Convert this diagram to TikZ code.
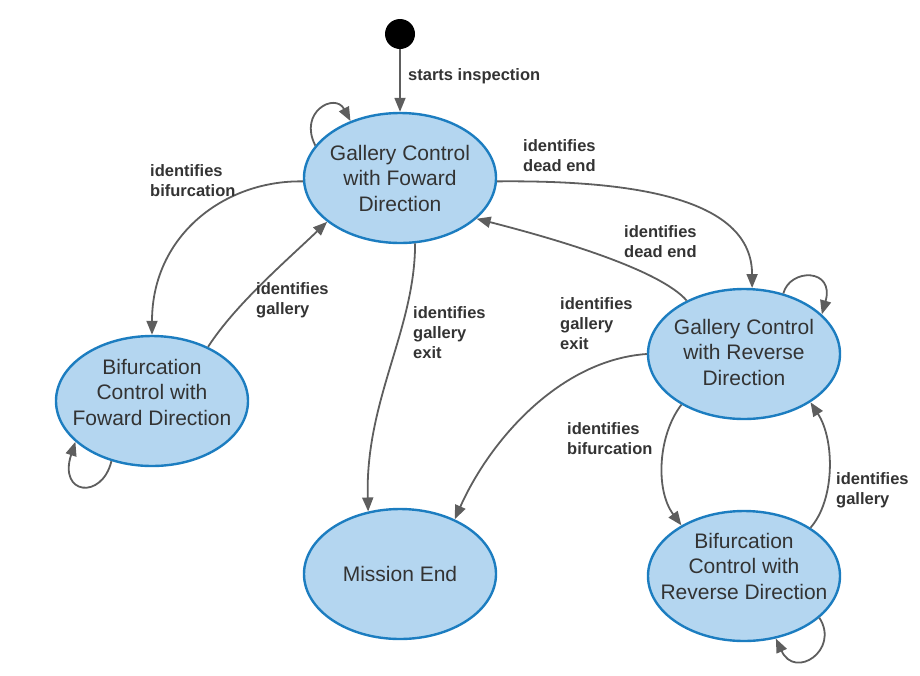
\documentclass[tikz,border=0pt]{standalone}
\usepackage{fontspec}
\setmainfont{Liberation Sans}
\usetikzlibrary{arrows.meta,shapes.geometric}
\definecolor{edgegray}{HTML}{5E5E5E}
\definecolor{stfill}{HTML}{B4D6F0}
\definecolor{stborder}{HTML}{1C7DC0}
\definecolor{txtgray}{HTML}{333333}
\tikzset{
  statebox/.style={ellipse, draw=stborder, line width=2.4pt, fill=stfill,
    minimum width=192pt, minimum height=130pt, inner sep=0pt},
  stxt/.style={align=center, text=txtgray, inner sep=0pt,
    font=\fontsize{21}{25.5}\selectfont},
  lbl/.style={align=left, text=txtgray, inner sep=0pt, anchor=north west,
    font=\fontsize{16.5}{20}\selectfont\bfseries},
  edge/.style={draw=edgegray, line width=1.8pt,
    -{Triangle[length=14pt,width=11pt]}},
}
\begin{document}
\begin{tikzpicture}[x=1pt,y=1pt]
\useasboundingbox (0,0) rectangle (920,-675);
% states
\node[circle, fill=black, minimum size=30pt, inner sep=0pt] (start) at (400,-34) {};
\node[statebox] (gcf) at (400,-178) {};
\node[stxt] (gcft) at (gcf) {Gallery Control\\with Foward\\Direction};
\node[statebox] (bcf) at (152,-401) {};
\node[stxt] (bcft) at ([yshift=9pt]bcf.center) {Bifurcation\\Control with\\Foward Direction};
\node[statebox] (gcr) at (744,-354) {};
\node[stxt] (gcrt) at ([yshift=2pt]gcr.center) {Gallery Control\\with Reverse\\Direction};
\node[statebox] (me) at (400,-574) {};
\node[stxt] (met) at (me) {Mission End};
\node[statebox] (bcr) at (744,-576) {};
\node[stxt] (bcrt) at ([yshift=10pt]bcr.center) {Bifurcation\\Control with\\Reverse Direction};
% edges
\draw[edge] (start.south) -- (gcf.90);
\draw[edge] (gcf.159) .. controls (298,-112) and (335,-92) .. (gcf.131);
\draw[edge] (gcf.182) .. controls (225,-180) and (152,-235) .. (bcf.90);
\draw[edge] (bcf.44) .. controls (235,-305) and (285,-262) .. (gcf.211);
\draw[edge] (gcf.358) .. controls (640,-180) and (752,-200) .. (gcr.83);
\draw[edge] (gcr.137) .. controls (660,-270) and (560,-240) .. (gcf.332);
\draw[edge] (gcf.283) .. controls (415,-330) and (365,-400) .. (me.117);
\draw[edge] (gcr.180) .. controls (560,-360) and (490,-440) .. (me.45);
\draw[edge] (gcr.219) .. controls (658,-435) and (655,-490) .. (bcr.141);
\draw[edge] (bcr.36) .. controls (835,-500) and (835,-440) .. (gcr.324);
\draw[edge] (gcr.57) .. controls (790,-268) and (835,-268) .. (gcr.27);
\draw[edge] (bcf.236) .. controls (102,-500) and (58,-495) .. (bcf.208);
\draw[edge] (bcr.331) .. controls (840,-650) and (795,-680) .. (bcr.297);
% labels
\node[lbl] (l1) at (408,-68.5) {starts inspection};
\node[lbl] (l2) at (150,-164.5) {identifies\\bifurcation};
\node[lbl] (l3) at (256,-282.5) {identifies\\gallery};
\node[lbl] (l4) at (523,-139.5) {identifies\\dead end};
\node[lbl] (l5) at (624,-225.5) {identifies\\dead end};
\node[lbl] (l6) at (413,-306.5) {identifies\\gallery\\exit};
\node[lbl] (l7) at (560,-297.5) {identifies\\gallery\\exit};
\node[lbl] (l8) at (567,-422.5) {identifies\\bifurcation};
\node[lbl] (l9) at (836,-472.5) {identifies\\gallery};
\end{tikzpicture}
\end{document}
